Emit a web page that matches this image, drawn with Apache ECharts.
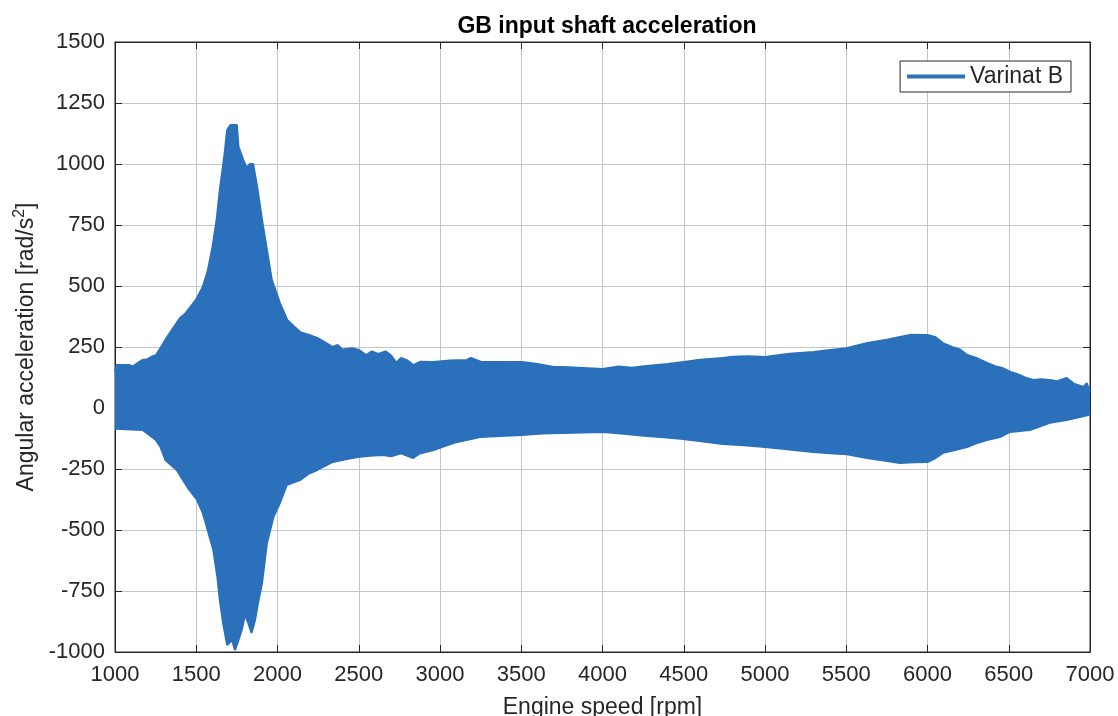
<!DOCTYPE html>
<html><head><meta charset="utf-8">
<script src="https://cdn.jsdelivr.net/npm/echarts@6/dist/echarts.min.js"></script>
<style>html,body{margin:0;padding:0;background:#fff}#c{width:1118px;height:716px}</style>
</head><body><div id="c"></div>
<script>
// Upper envelope of the oscillating signal (rpm, rad/s^2)
var rpmUpper = [1000,1010,1090,1110,1130,1170,1200,1230,1250,1280,1320,1360,1400,1430,1460,1500,1540,1570,1600,1625,1645,1675,1690,1710,1750,1760,1790,1810,1830,1850,1875,1905,1935,1965,2015,2060,2100,2140,2190,2245,2290,2340,2370,2400,2460,2500,2545,2580,2620,2665,2700,2730,2760,2800,2835,2880,2960,3060,3165,3190,3250,3370,3505,3600,3700,3760,3850,4000,4100,4180,4270,4400,4500,4600,4740,4800,4900,5000,5150,5300,5400,5500,5630,5750,5830,5900,6000,6050,6095,6150,6200,6245,6300,6370,6420,6460,6510,6550,6600,6650,6700,6753,6800,6856,6900,6960,6980,7000];
var upperValues = [150,176,176,170,180,197,200,212,215,246,290,330,369,385,410,445,496,560,660,770,893,1045,1139,1160,1160,1070,1016,984,1000,1000,906,770,648,525,430,361,335,311,300,287,270,250,258,240,245,238,217,232,222,232,215,186,205,195,176,190,189,195,197,205,190,189,189,180,168,168,165,160,170,165,172,180,189,198,205,210,212,209,222,230,238,245,266,280,291,300,299,290,266,250,240,217,205,184,170,164,148,140,125,115,118,115,110,123,100,86,102,66];
// Lower envelope
var rpmLower = [1000,1170,1250,1280,1310,1380,1445,1505,1540,1565,1605,1630,1645,1665,1690,1720,1738,1760,1780,1800,1820,1840,1862,1880,1905,1935,1975,2015,2057,2100,2140,2190,2245,2290,2340,2420,2495,2570,2650,2700,2760,2835,2870,2960,3100,3246,3370,3505,3630,3757,3880,4003,4130,4272,4380,4495,4620,4740,4870,5000,5150,5295,5400,5505,5625,5730,5830,5920,6003,6050,6095,6170,6243,6300,6366,6446,6508,6630,6753,6856,6990,7000];
var lowerValues = [-85,-90,-130,-160,-213,-254,-324,-377,-430,-488,-582,-693,-787,-881,-971,-951,-992,-951,-910,-848,-881,-922,-869,-799,-717,-553,-447,-389,-316,-305,-295,-270,-254,-238,-221,-210,-201,-196,-193,-198,-186,-205,-188,-172,-140,-119,-115,-111,-105,-102,-100,-98,-106,-115,-120,-127,-137,-148,-153,-160,-170,-180,-185,-190,-205,-215,-225,-222,-221,-205,-184,-172,-160,-145,-131,-119,-98,-90,-61,-49,-29,-20];

var seriesName = 'Varinat B';
var titleText = 'GB input shaft acceleration';
var xName = 'Engine speed [rpm]';

var upperData = rpmUpper.map(function(r,i){return [r, upperValues[i]];});
var lowerData = rpmLower.map(function(r,i){return [r, lowerValues[i]];});

var blue = '#2a70ba';
var txt = '#262626';
var font = 'Liberation Sans';
var plain = function(v){ return String(v); };
var chart = echarts.init(document.getElementById('c'));
chart.setOption({
  animation: false,
  backgroundColor: '#fff',
  title: { text: titleText, left: 602, top: 10, textAlign: 'center',
    textStyle: { fontFamily: font, fontWeight: 'bold', fontSize: 23, color: '#000' } },
  legend: {
    data: [seriesName], right: 47, top: 61,
    backgroundColor: '#fff', borderColor: '#262626', borderWidth: 1,
    padding: [4, 8, 4, 7], itemWidth: 58, itemHeight: 4, icon: 'rect', itemGap: 4,
    textStyle: { fontFamily: font, fontSize: 23, color: txt }
  },
  grid: { left: 115, right: 28, top: 42, bottom: 64, containLabel: false, outerBoundsMode: 'none',
    show: true, borderColor: '#262626', borderWidth: 1 },
  xAxis: [{
    type: 'value', min: 1000, max: 7000, interval: 500,
    name: xName, nameLocation: 'middle', nameGap: 44,
    nameTextStyle: { fontFamily: font, fontSize: 23, color: txt },
    axisLine: { show: true, onZero: false, lineStyle: { color: '#262626' } },
    axisTick: { show: true, inside: true, length: 7, lineStyle: { color: '#262626' } },
    axisLabel: { fontFamily: font, fontSize: 22, color: txt, margin: 12, formatter: plain },
    splitLine: { show: true, lineStyle: { color: '#c6c6c6', width: 1 } }
  },{
    type: 'value', min: 1000, max: 7000, interval: 500, position: 'top',
    axisLine: { show: true, onZero: false, lineStyle: { color: '#262626' } },
    axisTick: { show: true, inside: true, length: 7, lineStyle: { color: '#262626' } },
    axisLabel: { show: false }, splitLine: { show: false }
  }],
  yAxis: [{
    type: 'value', min: -1000, max: 1500, interval: 250,
    name: '{a|Angular acceleration [rad/s}{s|2}{a|]}', nameLocation: 'middle', nameGap: 66,
    nameTextStyle: { fontFamily: font, fontSize: 23, color: txt,
      rich: { a: { fontFamily: font, fontSize: 23, color: txt },
              s: { fontFamily: font, fontSize: 16, color: txt, padding: [0,0,13,0] } } },
    axisLine: { show: true, onZero: false, lineStyle: { color: '#262626' } },
    axisTick: { show: true, inside: true, length: 7, lineStyle: { color: '#262626' } },
    axisLabel: { fontFamily: font, fontSize: 22, color: txt, margin: 10, formatter: plain },
    splitLine: { show: true, lineStyle: { color: '#c6c6c6', width: 1 } }
  },{
    type: 'value', min: -1000, max: 1500, interval: 250, position: 'right',
    axisLine: { show: true, onZero: false, lineStyle: { color: '#262626' } },
    axisTick: { show: true, inside: true, length: 7, lineStyle: { color: '#262626' } },
    axisLabel: { show: false }, splitLine: { show: false }
  }],
  series: [
    { name: seriesName, type: 'line', data: upperData, showSymbol: false, symbol: 'none',
      lineStyle: { color: blue, width: 2 }, itemStyle: { color: blue },
      areaStyle: { color: blue, opacity: 1, origin: -10 } },
    { name: 'lower', type: 'line', data: lowerData, showSymbol: false, symbol: 'none',
      lineStyle: { color: blue, width: 2 }, itemStyle: { color: blue },
      areaStyle: { color: blue, opacity: 1, origin: 10 } }
  ]
});
</script></body></html>
